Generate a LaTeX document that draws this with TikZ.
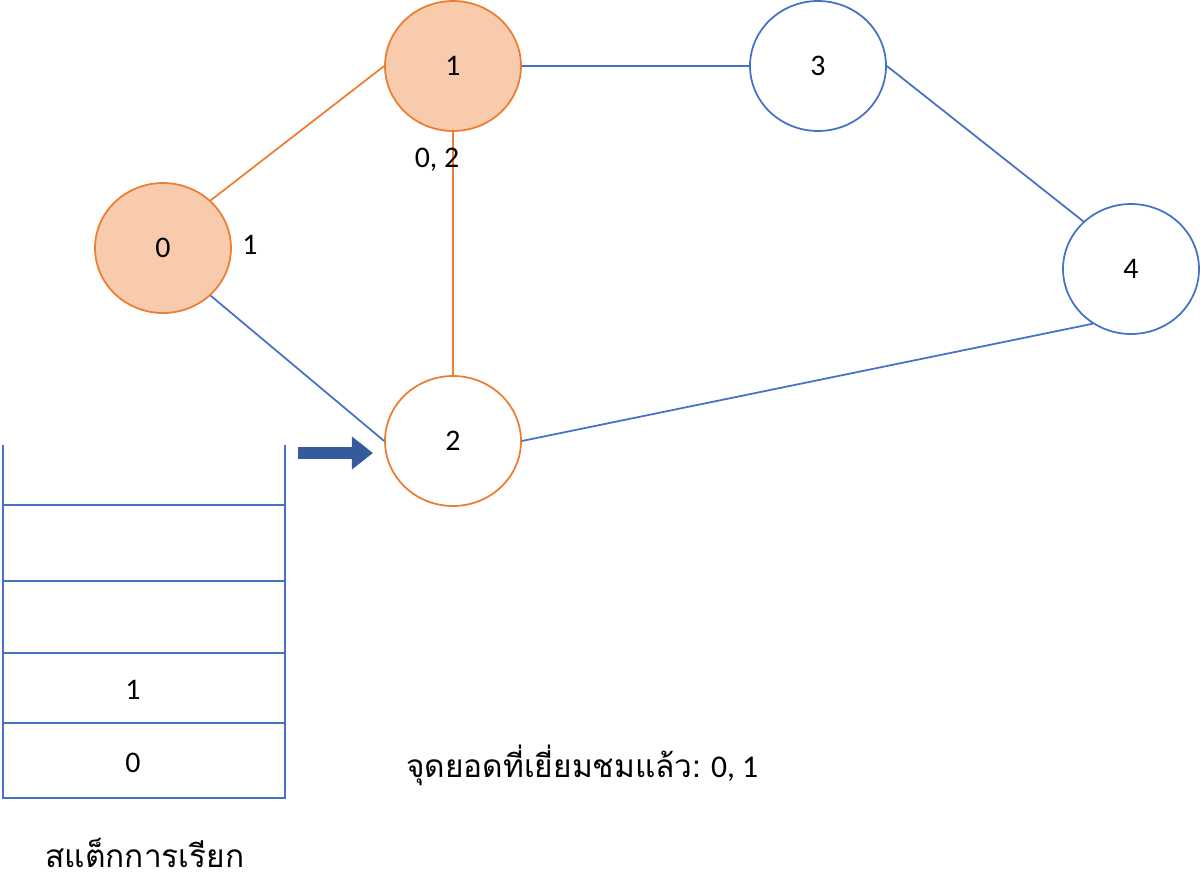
\documentclass[tikz,border=0pt]{standalone}
\usepackage{fontspec}
\setmainfont{Carlito}
\newfontfamily\thaifont[Script=Thai]{Loma}
\usetikzlibrary{shapes.geometric, arrows.meta}
\definecolor{orng}{HTML}{ED7D31}
\definecolor{peach}{HTML}{F8CBAD}
\definecolor{blu}{HTML}{4472C4}
\tikzset{
  vtx/.style = {draw, ellipse, line width=1pt, minimum width=2.72cm, minimum height=2.6cm, font=\fontsize{17}{20}\selectfont},
  seen/.style = {vtx, draw=orng, fill=peach},
  open/.style = {vtx, draw=blu},
  lbl/.style = {font=\fontsize{17}{20}\selectfont},
}
\begin{document}
\begin{tikzpicture}[x=0.02cm, y=-0.02cm]
\useasboundingbox (0,0) rectangle (1200,893);
\node[seen] (n0) at (163,248) {0};
\node[seen] (n1) at (453,66) {1};
\node[open] (n3) at (818,66) {3};
\node[open] (n4) at (1131,269) {4};
\node[vtx, draw=orng] (n2) at (453,441) {2};
\draw[orng, line width=1pt] (n0.45) -- (n1.west);
\draw[orng, line width=1pt] (n1) -- (n2);
\draw[blu, line width=1pt] (n0.-45) -- (n2.west);
\draw[blu, line width=1pt] (n1) -- (n3);
\draw[blu, line width=1pt] (n3.east) -- (n4.135);
\draw[blu, line width=1pt] (n2.east) -- (n4.-125);
\node[lbl] (l0) at (250,245) {1};
\node[lbl] (l1) at (437,160) {0, 2};
% stack
\coordinate (tl) at (3,445);
\coordinate (bl) at (3,798);
\coordinate (tr) at (285,445);
\coordinate (br) at (285,798);
\draw[blu, line width=1.5pt] (tl) -- (bl) -- (br) -- (tr);
\foreach \y in {505,581,653,723}
  \draw[blu, line width=1.5pt] (3,\y) -- (285,\y);
\node[lbl] (s1) at (133,690) {1};
\node[lbl] (s0) at (133,763) {0};
\node[lbl, font=\fontsize{18}{21}\selectfont] (cap) at (145,853) {\thaifont สแต็กการเรียก};
\node[lbl, anchor=west, font=\fontsize{18}{21}\selectfont] (vis) at (400,765) {{\thaifont จุดยอดที่เยี่ยมชมแล้ว:} 0, 1};
% pointer
\coordinate (pa) at (298,453);
\coordinate (pb) at (373,453);
\draw[blu!80!black, line width=7pt, -{Triangle[length=12pt, width=18pt]}] (pa) -- (pb);
\end{tikzpicture}
\end{document}
